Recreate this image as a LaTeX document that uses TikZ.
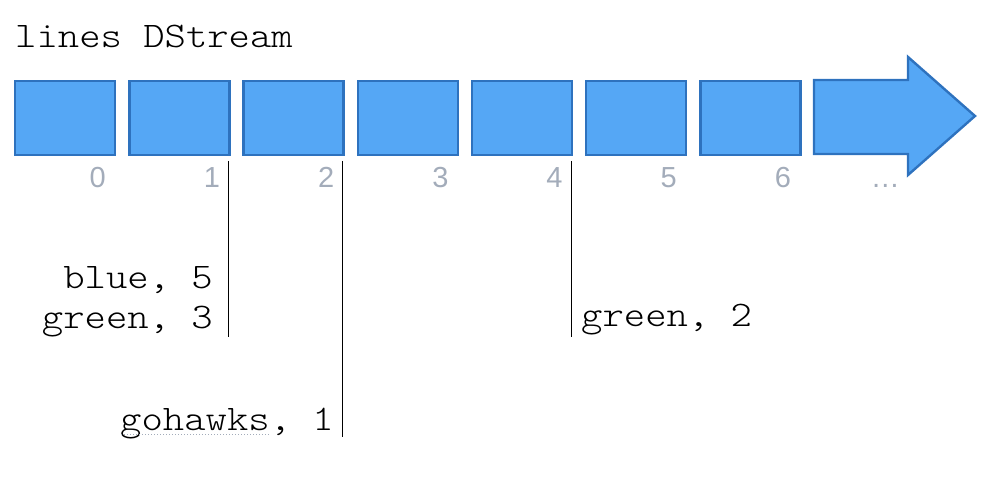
\documentclass[tikz,border=0pt]{standalone}
\usepackage{fontspec}
\setmainfont{Liberation Sans}
\newfontfamily\codefont[FakeStretch=1.13]{Latin Modern Mono Light}
\definecolor{boxfill}{HTML}{55A7F5}
\definecolor{boxedge}{HTML}{2E72BE}
\definecolor{numgray}{HTML}{A3ACBA}
\begin{document}
\begin{tikzpicture}[x=1pt,y=-1pt,
  slot/.style={draw=boxedge,fill=boxfill,line width=2.4pt,minimum width=100pt,minimum height=74pt,inner sep=0pt,anchor=north west},
  idx/.style={text=numgray,font=\fontsize{29}{32}\selectfont,anchor=base east,inner sep=0pt},
  code/.style={font=\codefont\fontsize{36}{40}\selectfont,inner sep=0pt},
  tickline/.style={draw=black,line width=1.3pt}]
\useasboundingbox (0,0) rectangle (994,484);
\node[code,anchor=base west] (title) at (15,48) {lines DStream};
\foreach \i in {0,...,6}{
  \node[slot] (b\i) at ({14+114.2*\i},80) {};
  \node[idx] (n\i) at ({106+114.2*\i},188) {\i};
}
\draw[draw=boxedge,fill=boxfill,line width=2.4pt,line join=miter]
  (814,80) -- (908,80) -- (908,57) -- (975,116) -- (908,175) -- (908,154) -- (814,154) -- cycle;
\node[idx] (ndots) at (900,188) {…};
% marker lines
\coordinate (t1) at (228.5,161); \coordinate (e1) at (228.5,337);
\coordinate (t2) at (342.5,161); \coordinate (e2) at (342.5,437);
\coordinate (t4) at (571.5,161); \coordinate (e4) at (571.5,337);
\draw[tickline] (t1) -- (e1);
\draw[tickline] (t2) -- (e2);
\draw[tickline] (t4) -- (e4);
\node[code,anchor=base east] (r1a) at (213,288) {blue, 5};
\node[code,anchor=base east] (r1b) at (213,328) {green, 3};
\node[code,anchor=base east] (r2) at (334,430) {gohawks, 1};
\node[code,anchor=base west] (r4) at (581,326) {green, 2};
\draw[numgray,line width=1pt,dotted] (121,434) -- (269,434);
\end{tikzpicture}
\end{document}
